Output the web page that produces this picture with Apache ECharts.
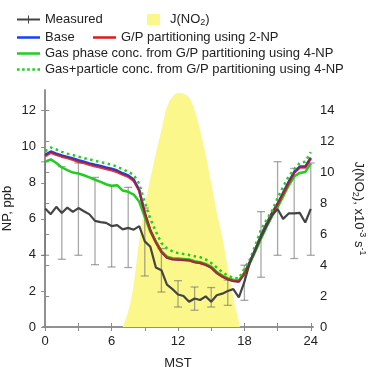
<!DOCTYPE html>
<html>
<head>
<meta charset="utf-8">
<script src="https://cdn.jsdelivr.net/npm/echarts@6/dist/echarts.min.js"></script>
<style>
  html, body { margin: 0; padding: 0; background: #fff; }
  #chart { width: 369px; height: 367px; }
</style>
</head>
<body>
<div id="chart"></div>
<script>
// hours of the day (MST), half-hour steps
const hours = [0, 0.5, 1, 1.5, 2, 2.5, 3, 3.5, 4, 4.5, 5, 5.5, 6, 6.5, 7, 7.5, 8, 8.5, 9, 9.5,
  10, 10.5, 11, 11.5, 12, 12.5, 13, 13.5, 14, 14.5, 15, 15.5, 16, 16.5, 17, 17.5, 18, 18.5, 19, 19.5,
  20, 20.5, 21, 21.5, 22, 22.5, 23, 23.5, 24]

const measured = [6.57, 6.26, 6.67, 6.33, 6.63, 6.39, 6.6, 6.42, 6.25, 5.89, 5.82, 5.78, 5.6, 5.65, 5.42, 5.5, 5.4, 5.6, 4.75, 4.45,
  3.3, 3.15, 2.35, 2.1, 1.8, 1.72, 1.4, 1.58, 1.5, 1.7, 1.4, 1.76, 1.85, 2.0, 2.1, 1.65, 2.5, 3.6, 4.3, 5.0,
  5.6, 6.2, 6.55, 6.0, 6.3, 6.3, 6.33, 5.8, 6.55]

const base = [9.55, 9.74, 9.62, 9.52, 9.44, 9.35, 9.25, 9.17, 9.08, 9.0, 8.93, 8.85, 8.78, 8.68, 8.53, 8.41, 8.18, 7.6, 6.3, 5.35,
  4.72, 4.18, 3.86, 3.77, 3.75, 3.73, 3.71, 3.61, 3.56, 3.46, 3.31, 3.01, 2.81, 2.66, 2.56, 2.53, 2.98, 3.62, 4.32, 5.08,
  5.72, 6.33, 6.84, 7.44, 8.05, 8.6, 8.9, 8.9, 9.4]

const np2 = [9.48, 9.67, 9.55, 9.45, 9.37, 9.28, 9.17, 9.1, 9.0, 8.92, 8.85, 8.77, 8.7, 8.6, 8.45, 8.33, 8.1, 7.55, 6.3, 5.35,
  4.7, 4.17, 3.85, 3.76, 3.74, 3.72, 3.7, 3.6, 3.55, 3.45, 3.3, 3.0, 2.8, 2.65, 2.55, 2.52, 2.97, 3.6, 4.3, 5.05,
  5.7, 6.3, 6.8, 7.4, 8.0, 8.55, 8.85, 8.85, 9.35]

const gas4 = [9.18, 9.3, 9.1, 8.85, 8.7, 8.57, 8.52, 8.42, 8.3, 8.17, 8.05, 7.92, 7.82, 7.87, 7.57, 7.5, 7.35, 6.95, 6.1, 5.3,
  4.72, 4.2, 3.9, 3.82, 3.8, 3.78, 3.75, 3.65, 3.6, 3.5, 3.35, 3.05, 2.85, 2.7, 2.62, 2.6, 3.0, 3.55, 4.2, 4.9,
  5.55, 6.15, 6.65, 7.25, 7.85, 8.35, 8.55, 8.6, 9.07]

const gasPart4 = [9.75, 9.96, 9.85, 9.72, 9.62, 9.54, 9.45, 9.37, 9.3, 9.22, 9.15, 9.08, 9.0, 8.9, 8.75, 8.62, 8.43, 7.95, 6.9, 6.0,
  5.3, 4.65, 4.36, 4.2, 4.1, 4.05, 4.0, 3.93, 3.87, 3.75, 3.55, 3.3, 3.05, 2.85, 2.72, 2.7, 3.24, 3.75, 4.55, 5.4,
  5.95, 6.45, 7.15, 7.78, 8.35, 8.75, 9.1, 9.17, 9.7]

// error bars of the measurements: [hour, low, high]
const errHours = [0, 1.5, 3, 4.5, 6, 7.5, 9, 10.5, 12, 13.5, 15, 16.5, 18, 19.5, 21, 22.5, 24]
const errLow = [3.98, 3.76, 3.98, 3.46, 3.33, 3.3, 2.83, 1.94, 1.11, 0.93, 1.11, 1.2, 1.48, 2.76, 3.98, 3.8, 3.98]
const errHigh = [9.17, 8.9, 9.1, 8.3, 7.87, 7.75, 6.6, 4.35, 2.57, 2.22, 2.19, 2.6, 3.43, 6.4, 9.17, 8.8, 9.1]

// J(NO2), x10^-3 s^-1
const jHours = [7, 7.5, 8, 8.5, 9, 9.5, 10, 10.5, 11, 11.5, 12, 12.5, 13, 13.5, 14, 14.5, 15, 15.5, 16, 16.5, 17, 17.5, 17.6]
const jNO2 = [0, 1.0, 2.8, 5.6, 7.8, 9.6, 11.2, 12.7, 14.2, 14.85, 15.1, 15.05, 14.8, 14.0, 12.7, 11.1, 9.3, 7.4, 5.8, 3.8, 1.9, 0.3, 0]

const xTicks = [0, 3, 6, 9, 12, 15, 18, 21, 24]
const xLabels = [0, 6, 12, 18, 24]
const npTicks = [0, 2, 4, 6, 8, 10, 12]
const jTicks = [0, 2, 4, 6, 8, 10, 12, 14]

const pair = (xs, ys) => xs.map((x, i) => [x, ys[i]])

const FONT = 'Liberation Sans'
const axisGray = '#8a8a8a'
const labelStyle = { fontFamily: FONT, fontSize: 13, color: '#222' }
const legendText = { fontFamily: FONT, fontSize: 13, color: '#222' }

const LINE_ICON = 'path://M0,4H23V6.5H0Z'
const DOT_ICON = 'path://M0,4H2.5V6.5H0Z M5,4H7.5V6.5H5Z M10,4H12.5V6.5H10Z M15,4H17.5V6.5H15Z M20,4H22.5V6.5H20Z'

const mkLegend = (name, left, top, icon, extra) => Object.assign({
  data: [{ name: name, icon: icon }],
  left: left,
  top: top,
  padding: 0,
  itemWidth: 23,
  itemHeight: 10,
  selectedMode: false,
  textStyle: legendText
}, extra || {})

const chart = echarts.init(document.getElementById('chart'))
chart.setOption({
  animation: false,
  backgroundColor: '#fff',
  grid: { left: 43, right: 56, top: 90, bottom: 40, containLabel: false, outerBoundsMode: 'none' },
  legend: [
    mkLegend('Measured', 17, 13, 'path://M0,4H23V6H0Z M11,1H12V9H11Z', { itemHeight: 9 }),
    mkLegend('J(NO2)', 147, 13, 'rect', {
      itemWidth: 13,
      itemHeight: 11,
      formatter: () => '{a|J(NO}{s|2}{a|)}',
      textStyle: Object.assign({}, legendText, {
        padding: [0, 0, 0, 5],
        rich: {
          a: { fontFamily: FONT, fontSize: 13, color: '#222' },
          s: { fontFamily: FONT, fontSize: 9, color: '#222', padding: [6, 0, 0, 0] }
        }
      })
    }),
    mkLegend('Base', 17, 31, LINE_ICON),
    mkLegend('G/P partitioning using 2-NP', 93, 31, LINE_ICON),
    mkLegend('Gas phase conc. from G/P partitioning using 4-NP', 17, 47, LINE_ICON),
    mkLegend('Gas+particle conc. from G/P partitioning using 4-NP', 17, 63, DOT_ICON)
  ],
  xAxis: [
    {
      type: 'value',
      min: -0.2,
      max: 24.2,
      name: 'MST',
      nameLocation: 'middle',
      nameGap: 30,
      nameTextStyle: labelStyle,
      axisLine: { show: true, lineStyle: { color: axisGray, width: 1.5 } },
      axisTick: { show: true, customValues: xTicks, length: 4, inside: false, lineStyle: { color: axisGray } },
      axisLabel: { customValues: xLabels, margin: 8, ...labelStyle },
      splitLine: { show: false }
    },
    {
      type: 'value',
      position: 'top',
      min: -0.2,
      max: 24.2,
      axisLine: { show: true, lineStyle: { color: axisGray, width: 1.5 } },
      axisTick: { show: true, customValues: xTicks, length: 4, lineStyle: { color: axisGray } },
      axisLabel: { show: false },
      splitLine: { show: false }
    }
  ],
  yAxis: [
    {
      type: 'value',
      min: 0,
      max: 13.15,
      name: 'NP, ppb',
      nameLocation: 'middle',
      nameGap: 29,
      nameMoveOverlap: false,
      nameTextStyle: labelStyle,
      axisLine: { show: true, lineStyle: { color: axisGray, width: 1.5 } },
      axisTick: { show: true, customValues: npTicks, length: 4, lineStyle: { color: axisGray } },
      axisLabel: { customValues: npTicks, margin: 7, ...labelStyle },
      splitLine: { show: false }
    },
    {
      type: 'value',
      min: 0,
      max: 15.3,
      position: 'right',
      name: '{a|J(NO}{s|2}{a|), x10}{p|-3}{a| s}{p|-1}',
      nameLocation: 'middle',
      nameRotate: -90,
      nameGap: 38,
      nameMoveOverlap: false,
      nameTextStyle: {
        rich: {
          a: { fontFamily: FONT, fontSize: 13, color: '#222' },
          s: { fontFamily: FONT, fontSize: 9, color: '#222', padding: [7, 0, 0, 0] },
          p: { fontFamily: FONT, fontSize: 9, color: '#222', padding: [0, 0, 7, 0] }
        }
      },
      axisLine: { show: true, lineStyle: { color: axisGray, width: 1.5 } },
      axisTick: { show: true, customValues: jTicks, length: 4, lineStyle: { color: axisGray } },
      axisLabel: { customValues: jTicks, margin: 7, ...labelStyle },
      splitLine: { show: false }
    }
  ],
  series: [
    {
      name: 'J(NO2)',
      type: 'line',
      yAxisIndex: 1,
      data: pair(jHours, jNO2),
      smooth: 0.35,
      symbol: 'none',
      itemStyle: { color: '#fbf78a' },
      lineStyle: { width: 0, color: '#fbf78a' },
      areaStyle: { color: '#fbf78a', opacity: 1 },
      z: 1
    },
    {
      name: 'error',
      type: 'custom',
      data: errHours.map((h, i) => [h, errLow[i], errHigh[i]]),
      renderItem: (params, api) => {
        const lo = api.coord([api.value(0), api.value(1)])
        const hi = api.coord([api.value(0), api.value(2)])
        const st = { stroke: 'rgba(110,110,110,0.6)', lineWidth: 1.3 }
        return {
          type: 'group',
          children: [
            { type: 'line', shape: { x1: lo[0], y1: lo[1], x2: hi[0], y2: hi[1] }, style: st },
            { type: 'line', shape: { x1: lo[0] - 4, y1: lo[1], x2: lo[0] + 4, y2: lo[1] }, style: st },
            { type: 'line', shape: { x1: hi[0] - 4, y1: hi[1], x2: hi[0] + 4, y2: hi[1] }, style: st }
          ]
        }
      },
      z: 2
    },
    {
      name: 'Base',
      type: 'line',
      data: pair(hours, base),
      symbol: 'none',
      itemStyle: { color: '#1a3cff' },
      lineStyle: { width: 2.5, color: '#1a3cff' },
      z: 3
    },
    {
      name: 'G/P partitioning using 2-NP',
      type: 'line',
      data: pair(hours, np2),
      symbol: 'none',
      itemStyle: { color: '#d81c1c' },
      lineStyle: { width: 2.5, color: 'rgba(190,20,30,0.8)' },
      z: 4
    },
    {
      name: 'Gas phase conc. from G/P partitioning using 4-NP',
      type: 'line',
      data: pair(hours, gas4),
      symbol: 'none',
      itemStyle: { color: '#22cc22' },
      lineStyle: { width: 2.5, color: '#22cc22' },
      z: 3
    },
    {
      name: 'Gas+particle conc. from G/P partitioning using 4-NP',
      type: 'line',
      data: pair(hours, gasPart4),
      symbol: 'none',
      itemStyle: { color: '#22cc22' },
      lineStyle: { width: 2.5, color: '#22cc22', type: [2.5, 3.5] },
      z: 5
    },
    {
      name: 'Measured',
      type: 'line',
      data: pair(hours, measured),
      symbol: 'none',
      itemStyle: { color: '#444' },
      lineStyle: { width: 2.2, color: '#444' },
      z: 6
    }
  ]
})
</script>
</body>
</html>
